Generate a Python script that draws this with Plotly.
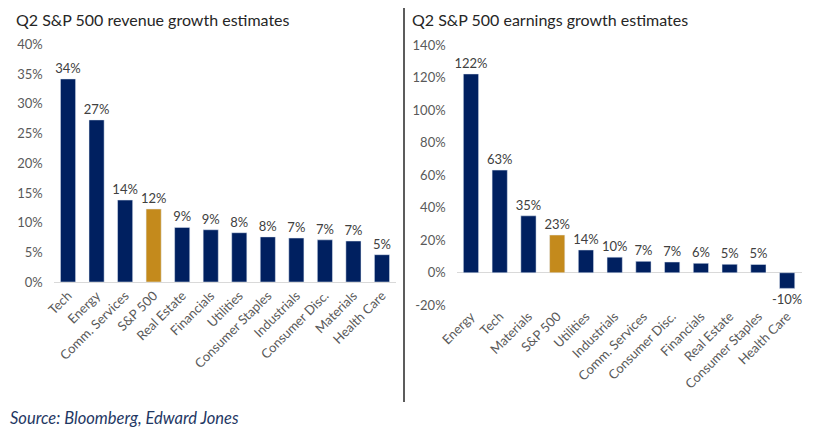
import plotly.graph_objects as go

# page is drawn with an 8px body margin, so positions are measured from (8, 8)
OFF = 8
W, H = 800, 422

rev_sectors = ["Tech", "Energy", "Comm. Services", "S&P 500", "Real Estate", "Financials",
               "Utilities", "Consumer Staples", "Industrials", "Consumer Disc.", "Materials",
               "Health Care"]
rev_growth = [34.2, 27.3, 13.8, 12.3, 9.2, 8.8, 8.3, 7.6, 7.4, 7.1, 6.9, 4.6]

earn_sectors = ["Energy", "Tech", "Materials", "S&P 500", "Utilities", "Industrials",
                "Comm. Services", "Consumer Disc.", "Financials", "Real Estate",
                "Consumer Staples", "Health Care"]
earn_growth = [122.2, 63.1, 35.0, 23.2, 14.0, 9.6, 7.0, 6.6, 5.8, 5.2, 5.1, -9.6]

rev_ticks = [0, 5, 10, 15, 20, 25, 30, 35, 40]
earn_ticks = [-20, 0, 20, 40, 60, 80, 100, 120, 140]

NAVY = "#002060"
GOLD = "#C48A1C"
FONT = "Lato"


def px(x):
    return (x - OFF) / W


def py(y):
    return 1 - (y - OFF) / H


def colors(names):
    return [GOLD if n == "S&P 500" else NAVY for n in names]


fig = go.Figure()
fig.add_trace(go.Bar(x=rev_sectors, y=rev_growth, marker_color=colors(rev_sectors),
                     width=0.53, texttemplate="%{y:.0f}%", textposition="outside",
                     constraintext="none",
                     textfont=dict(size=13, color="#404040"), cliponaxis=False,
                     xaxis="x", yaxis="y"))
fig.add_trace(go.Bar(x=earn_sectors, y=earn_growth, marker_color=colors(earn_sectors),
                     width=0.53, texttemplate="%{y:.0f}%", textposition="outside",
                     constraintext="none",
                     textfont=dict(size=13, color="#404040"), cliponaxis=False,
                     xaxis="x2", yaxis="y2"))

tickfont = dict(size=13, color="#595959")
fig.update_layout(
    width=W, height=H, margin=dict(l=0, r=0, t=0, b=0),
    paper_bgcolor="white", plot_bgcolor="white",
    showlegend=False, font=dict(family=FONT),
    xaxis=dict(domain=[px(53.75), px(396.25)], tickangle=-45, tickfont=tickfont,
               showgrid=False, showline=True, linecolor="#d9d9d9", ticks="",
               automargin=False, anchor="y"),
    yaxis=dict(domain=[py(282), py(44.5)], range=[0, 40], tickvals=rev_ticks,
               ticktext=[f"{v}%" for v in rev_ticks], tickfont=tickfont,
               showgrid=False, zeroline=False, ticklabelstandoff=10,
               automargin=False, anchor="x"),
    xaxis2=dict(domain=[px(456.6), px(801.5)], tickangle=-45, tickfont=tickfont,
                showgrid=False, showline=False, ticks="", automargin=False, anchor="y2"),
    yaxis2=dict(domain=[py(305.3), py(45)], range=[-20, 140], tickvals=earn_ticks,
                ticktext=[f"{v}%" for v in earn_ticks], tickfont=tickfont,
                showgrid=False, zeroline=True, zerolinecolor="#d9d9d9", zerolinewidth=1,
                ticklabelstandoff=10, automargin=False, anchor="x2"),
    shapes=[dict(type="line", xref="paper", yref="paper", x0=px(404), x1=px(404),
                 y0=py(402), y1=1, line=dict(color="#262626", width=1.5))],
    annotations=[
        dict(text="Q2 S&P 500 revenue growth estimates", xref="paper", yref="paper",
             x=px(14), y=py(20), xanchor="left", yanchor="middle", showarrow=False,
             font=dict(size=16, color="#262626")),
        dict(text="Q2 S&P 500 earnings growth estimates", xref="paper", yref="paper",
             x=px(410), y=py(20), xanchor="left", yanchor="middle", showarrow=False,
             font=dict(size=16, color="#262626")),
        dict(text="<i>Source: Bloomberg, Edward Jones</i>", xref="paper", yref="paper",
             x=0, y=0, xanchor="left", yanchor="bottom", showarrow=False,
             font=dict(size=16.5, color="#1F3864")),
    ],
)

fig.write_html("out.html")
